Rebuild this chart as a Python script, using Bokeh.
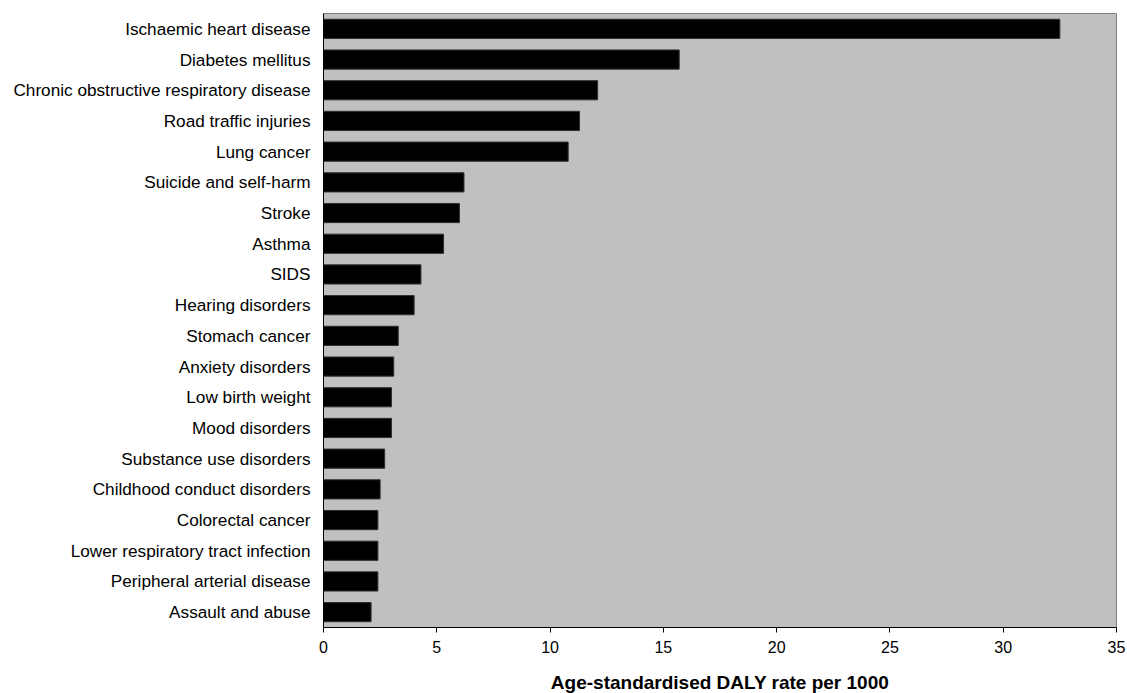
from bokeh.plotting import figure
from bokeh.models import FactorRange, Range1d, FixedTicker
from bokeh.embed import file_html
from bokeh.resources import INLINE

causes = [
    "Ischaemic heart disease",
    "Diabetes mellitus",
    "Chronic obstructive respiratory disease",
    "Road traffic injuries",
    "Lung cancer",
    "Suicide and self-harm",
    "Stroke",
    "Asthma",
    "SIDS",
    "Hearing disorders",
    "Stomach cancer",
    "Anxiety disorders",
    "Low birth weight",
    "Mood disorders",
    "Substance use disorders",
    "Childhood conduct disorders",
    "Colorectal cancer",
    "Lower respiratory tract infection",
    "Peripheral arterial disease",
    "Assault and abuse",
]
daly_rate = [32.5, 15.7, 12.1, 11.3, 10.8, 6.2, 6.0, 5.3, 4.3, 4.0,
             3.3, 3.1, 3.0, 3.0, 2.7, 2.5, 2.4, 2.4, 2.4, 2.1]
x_ticks = [0, 5, 10, 15, 20, 25, 30, 35]
x_title = "Age-standardised DALY rate per 1000"

FONT = "Liberation Sans"

p = figure(
    y_range=FactorRange(factors=list(reversed(causes)), range_padding=0),
    x_range=Range1d(0, 35),
    frame_width=793, frame_height=614,
    min_border_left=323, min_border_right=11, min_border_top=13, min_border_bottom=64,
    output_backend="svg", toolbar_location=None,
)

p.hbar(y=causes, right=daly_rate, left=0, height=0.625,
       fill_color="black", line_color="#303030", line_width=1)

p.background_fill_color = "#C0C0C0"
p.border_fill_color = "white"
p.outline_line_color = "#808080"
p.outline_line_width = 1
p.xgrid.grid_line_color = None
p.ygrid.grid_line_color = None

xa = p.xaxis[0]
xa.ticker = FixedTicker(ticks=x_ticks)
xa.axis_line_color = "black"
xa.major_tick_line_color = "black"
xa.major_tick_out = 5
xa.major_tick_in = 0
xa.minor_tick_line_color = None
xa.major_label_text_font = FONT
xa.major_label_text_font_size = "16px"
xa.major_label_text_color = "black"
xa.major_label_standoff = 8
xa.axis_label = x_title
xa.axis_label_text_font = FONT
xa.axis_label_text_font_style = "bold"
xa.axis_label_text_font_size = "19px"
xa.axis_label_text_color = "black"
xa.axis_label_standoff = 16

ya = p.yaxis[0]
ya.axis_line_color = "black"
ya.major_tick_line_color = None
ya.major_tick_out = 0
ya.major_tick_in = 0
ya.minor_tick_line_color = None
ya.major_label_text_font = FONT
ya.major_label_text_font_size = "17.2px"
ya.major_label_text_color = "black"
ya.major_label_standoff = 13

open("out.html", "w").write(file_html(p, INLINE))
